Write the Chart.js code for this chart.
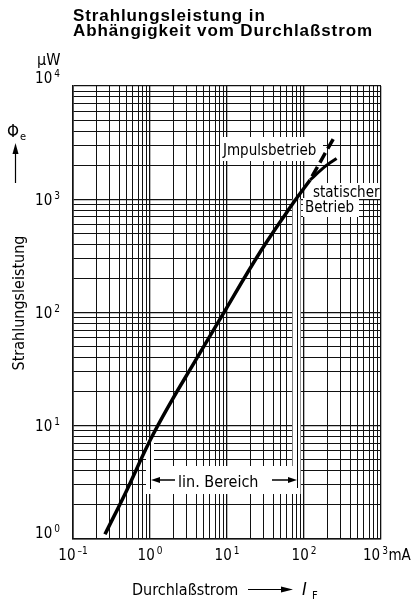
<!DOCTYPE html>
<html>
<head>
<meta charset="utf-8">
<script src="https://cdn.jsdelivr.net/npm/chart.js@4/dist/chart.umd.min.js"></script>
<style>
  html, body { margin: 0; padding: 0; background: #fff; }
  #wrap { width: 411px; height: 601px; }
</style>
</head>
<body>
<div id="wrap"><canvas id="canvas"></canvas></div>
<script>
  // Kennlinie (mA / µW)
  const currentLinear = [0.26, 0.5, 1, 1.9, 3.7, 8, 28, 72, 120];
  const powerLinear   = [1.1, 2.7, 7.4, 16.5, 35.5, 86, 356, 920, 1480];
  const currentStatic = [120, 185, 265];
  const powerStatic   = [1480, 1930, 2290];
  const currentPulse  = [120, 245];
  const powerPulse    = [1480, 3500];
  const xDecades = [-1, 0, 1, 2, 3];
  const yDecades = [0, 1, 2, 3, 4];
  const linRange = [1, 80];        // mA
  const linRangeTop = [7.4, 1000]; // µW, where the markers meet the curve

  const fontC = '"DejaVu Sans Condensed", "DejaVu Sans", sans-serif';
  const ctx = document.getElementById('canvas').getContext('2d');

  function toPoints(xs, ys) {
    return xs.map(function (x, i) { return { x: x, y: ys[i] }; });
  }

  // all 1..9 x 10^n lines
  function logTicks(decades) {
    var t = [];
    for (var i = 0; i < decades.length; i++) {
      var base = Math.pow(10, decades[i]);
      if (i === decades.length - 1) { t.push({ value: base }); break; }
      for (var m = 1; m <= 9; m++) t.push({ value: m * base });
    }
    return t;
  }
  function isDecade(v) {
    var l = Math.log10(v);
    return Math.abs(l - Math.round(l)) < 1e-6;
  }

  function pow10(c, exp, x, y, align, tail) {
    c.font = '15px ' + fontC;
    var wb = c.measureText('10').width;
    var sup = String(exp).replace('-', '\u2013');
    c.font = '10px ' + fontC;
    var ws = c.measureText(sup).width;
    var gap = 2;
    var total = wb + gap + ws;
    var left = align === 'right' ? x - total : (align === 'center' ? x - total / 2 : x);
    c.textAlign = 'left';
    c.textBaseline = 'alphabetic';
    c.font = '15px ' + fontC;
    c.fillText('10', left, y);
    c.font = '10px ' + fontC;
    c.fillText(sup, left + wb + gap, y - 6);
    if (tail) {
      c.font = '15px ' + fontC;
      c.fillText(tail, left + total + 0.5, y);
    }
  }

  function arrow(c, x1, y1, x2, y2, len, half) {
    var a = Math.atan2(y2 - y1, x2 - x1);
    c.beginPath();
    c.moveTo(x1, y1);
    c.lineTo(x2 - Math.cos(a) * len * 0.8, y2 - Math.sin(a) * len * 0.8);
    c.stroke();
    c.beginPath();
    c.moveTo(x2, y2);
    c.lineTo(x2 - Math.cos(a) * len - Math.sin(a) * half, y2 - Math.sin(a) * len + Math.cos(a) * half);
    c.lineTo(x2 - Math.cos(a) * len + Math.sin(a) * half, y2 - Math.sin(a) * len - Math.cos(a) * half);
    c.closePath();
    c.fill();
  }

  const whiteBoxes = {
    id: 'whiteBoxes',
    beforeDatasetsDraw(chart) {
      var c = chart.ctx, xs = chart.scales.x, ys = chart.scales.y;
      c.save();
      c.fillStyle = '#fff';
      c.fillRect(220, 137, 103, 24);   // Jmpulsbetrieb
      c.fillRect(311, 183, 69, 16);    // statischer
      c.fillRect(303, 198, 56, 19);    // Betrieb
      c.fillRect(150, 466, 148, 28);   // lin. Bereich
      for (var i = 0; i < linRange.length; i++) {
        var px = xs.getPixelForValue(linRange[i]);
        var top = ys.getPixelForValue(linRangeTop[i]);
        c.fillRect(px - 4, top, 8, 494 - top);
      }
      c.restore();
    }
  };

  const labels = {
    id: 'labels',
    afterDatasetsDraw(chart) {
      var c = chart.ctx, xs = chart.scales.x, ys = chart.scales.y;
      c.save();
      c.fillStyle = '#000';
      c.strokeStyle = '#000';
      c.textAlign = 'left';
      c.textBaseline = 'alphabetic';

      // lin. Bereich bracket
      c.lineWidth = 1;
      var xl = Math.round(xs.getPixelForValue(linRange[0])) + 0.5;
      var xr = Math.round(xs.getPixelForValue(linRange[1])) + 0.5;
      c.beginPath();
      c.moveTo(xl, ys.getPixelForValue(linRangeTop[0]));
      c.lineTo(xl, 489);
      c.moveTo(xr, ys.getPixelForValue(linRangeTop[1]));
      c.lineTo(xr, 488);
      c.stroke();
      c.lineWidth = 1.5;
      arrow(c, 175, 480, xl + 0.5, 480, 9, 3);
      arrow(c, 272, 480, xr - 0.5, 480, 9, 3);
      c.font = '16px ' + fontC;
      c.fillText('lin. Bereich', 178, 487);

      c.font = '15px ' + fontC;
      c.fillText('Jmpulsbetrieb', 223, 155);
      c.fillText('statischer', 313, 197);
      c.fillText('Betrieb', 305, 212);
      c.restore();
    },
    afterDraw(chart) {
      var c = chart.ctx, xs = chart.scales.x, ys = chart.scales.y;
      c.save();
      c.fillStyle = '#000';
      c.strokeStyle = '#000';

      // title
      c.font = 'bold 17px "Liberation Sans", Arial, sans-serif';
      c.letterSpacing = '0.9px';
      c.textAlign = 'left';
      c.textBaseline = 'alphabetic';
      c.fillText('Strahlungsleistung in', 73, 20.5);
      c.fillText('Abhängigkeit vom Durchlaßstrom', 73, 36);
      c.letterSpacing = '0px';

      // y ticks
      yDecades.forEach(function (d, i) {
        var py = ys.getPixelForValue(Math.pow(10, d));
        var base = py + 5.5;
        if (i === 0) base = py - 1;
        if (i === yDecades.length - 1) base = py - 3;
        pow10(c, d, 60, base, 'right');
      });
      c.font = '16px ' + fontC;
      c.textAlign = 'left';
      c.fillText('\u00b5W', 37, 65);

      // x ticks
      xDecades.forEach(function (d, i) {
        var px = xs.getPixelForValue(Math.pow(10, d));
        if (i === xDecades.length - 1) pow10(c, d, 363, 560, 'left', 'mA');
        else pow10(c, d, px, 560, 'center');
      });

      // x title
      c.textAlign = 'left';
      c.font = '16px ' + fontC;
      c.fillText('Durchlaßstrom', 132, 595);
      c.lineWidth = 1.2;
      arrow(c, 248, 589.5, 293, 589.5, 12, 3);
      c.font = 'italic 18px ' + fontC;
      c.fillText('I', 302, 595);
      c.font = '11px ' + fontC;
      c.fillText('F', 312, 599);

      // y title
      c.font = '17px ' + fontC;
      c.fillText('\u03a6', 7, 137);
      c.font = '11px ' + fontC;
      c.fillText('e', 20, 140);
      c.lineWidth = 1.2;
      arrow(c, 15.5, 183, 15.5, 143, 11, 3);
      c.save();
      c.translate(24, 303);
      c.rotate(-Math.PI / 2);
      c.textAlign = 'center';
      c.font = '16px ' + fontC;
      c.fillText('Strahlungsleistung', 0, 0);
      c.restore();

      c.restore();
    }
  };

  function gridOpts() {
    return {
      color: '#111',
      lineWidth: function (g) { return g.tick && isDecade(g.tick.value) ? 1.3 : 1; },
      drawTicks: false
    };
  }

  const config = {
    type: 'line',
    data: {
      datasets: [
        { data: toPoints(currentLinear, powerLinear), borderWidth: 3.5, tension: 0.4 },
        { data: toPoints(currentStatic, powerStatic), borderWidth: 3, tension: 0.3 },
        { data: toPoints(currentPulse, powerPulse), borderWidth: 3.5, borderDash: [11, 5], borderDashOffset: -4 }
      ].map(function (d) {
        return Object.assign({ borderColor: '#000', pointRadius: 0, fill: false, borderCapStyle: 'butt' }, d);
      })
    },
    options: {
      animation: false,
      responsive: true,
      maintainAspectRatio: false,
      events: [],
      layout: { padding: { left: 73, right: 30, top: 86, bottom: 62 } },
      plugins: { legend: { display: false }, tooltip: { enabled: false }, title: { display: false } },
      scales: {
        x: {
          type: 'logarithmic', min: 0.1, max: 1000,
          afterBuildTicks: function (s) { s.ticks = logTicks(xDecades); },
          ticks: { display: false, autoSkip: false },
          grid: gridOpts(),
          border: { display: true, color: '#111', width: 1.6 }
        },
        y: {
          type: 'logarithmic', min: 1, max: 10000,
          afterBuildTicks: function (s) { s.ticks = logTicks(yDecades); },
          ticks: { display: false, autoSkip: false },
          grid: gridOpts(),
          border: { display: true, color: '#111', width: 1.6 }
        }
      }
    },
    plugins: [whiteBoxes, labels]
  };

  const chart = new Chart(ctx, config);
</script>
</body>
</html>
